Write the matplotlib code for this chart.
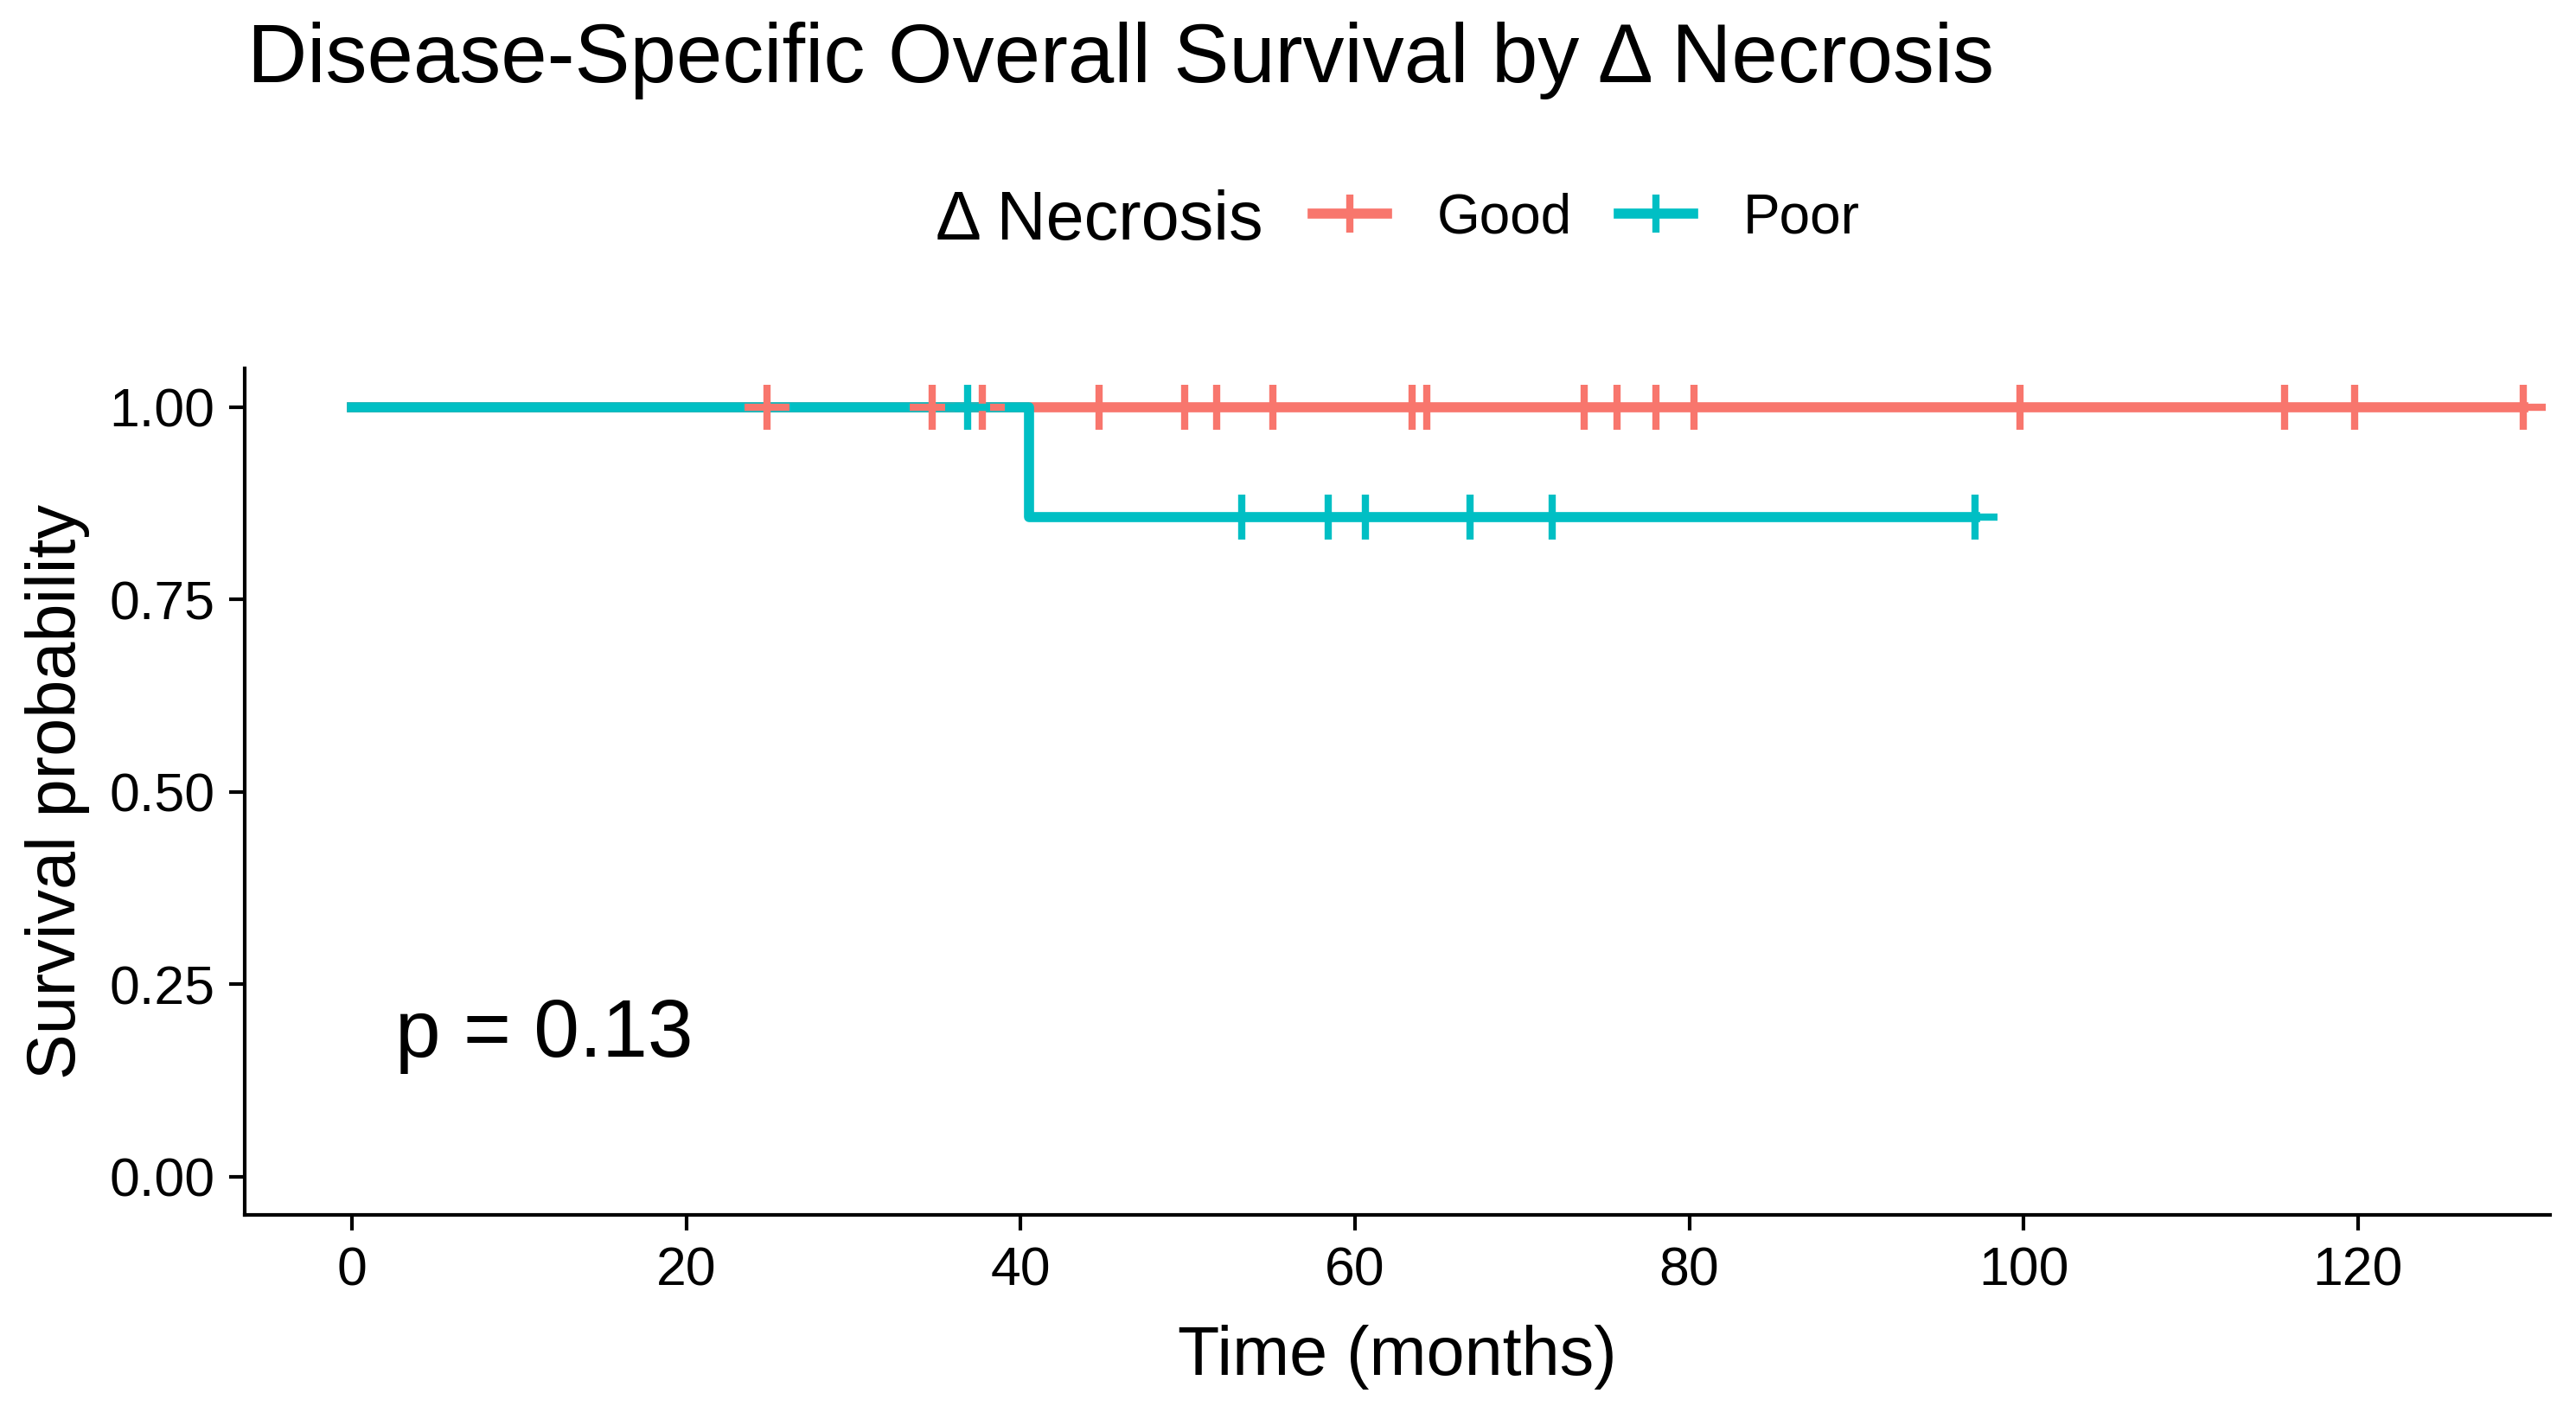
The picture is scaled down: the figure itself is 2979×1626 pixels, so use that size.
import numpy as np
import matplotlib.pyplot as plt

plt.rcParams['font.family'] = ['Liberation Sans', 'DejaVu Sans']

# 數據 (months), status 1 = event, 0 = censored
group_names = ['Good', 'Poor']
group_colors = ['#F8766D', '#00BFC4']

good_time = [24.8, 34.7, 37.7, 44.7, 49.8, 51.7, 55.1, 63.4, 64.3, 73.7,
             75.7, 78.0, 80.3, 99.8, 115.6, 119.8, 129.9]
good_status = [0] * len(good_time)

poor_time = [36.8, 40.5, 53.2, 58.4, 60.6, 66.9, 71.8, 97.1]
poor_status = [0, 1, 0, 0, 0, 0, 0, 0]

p_value = 0.13
x_ticks = [0, 20, 40, 60, 80, 100, 120]
y_ticks = [0.0, 0.25, 0.50, 0.75, 1.00]


def km(times, status):
    times = np.asarray(times, float)
    status = np.asarray(status, int)
    order = np.argsort(times)
    times, status = times[order], status[order]
    total = len(times)
    at_risk = total
    xs, ys = [0.0], [1.0]
    s = 1.0
    cens_x, cens_y = [], []
    i = 0
    while i < total:
        t = times[i]
        d = int(np.sum((times == t) & (status == 1)))
        c = int(np.sum((times == t) & (status == 0)))
        if d > 0:
            s = s * (1 - d / at_risk)
            xs.append(t)
            ys.append(s)
        if c > 0:
            cens_x += [t] * c
            cens_y += [s] * c
        at_risk -= d + c
        i += d + c
    xs.append(times[-1])
    ys.append(s)
    return xs, ys, cens_x, cens_y


fig = plt.figure(figsize=(14.895, 8.13), dpi=200)
ax = fig.add_axes([0.0951, 0.1357, 0.8948, 0.6022])

handles = []
curves = [(good_time, good_status), (poor_time, poor_status)]
for (t, st), name, col in zip(curves, group_names, group_colors):
    xs, ys, cx, cy = km(t, st)
    ax.step(xs, ys, where='post', color=col, lw=4.2, zorder=2)
    ax.plot(cx, cy, ls='none', marker='+', ms=19, mew=3.0, color=col, zorder=3)
    h, = ax.plot([], [], color=col, lw=4.2, marker='+', ms=16, mew=3.0)
    handles.append(h)

ax.set_xlim(-6.41, 131.49)
ax.set_ylim(-0.05, 1.05)
ax.set_xticks(x_ticks)
ax.set_yticks(y_ticks)
ax.set_yticklabels(['%.2f' % v for v in y_ticks])
for side in ['top', 'right']:
    ax.spines[side].set_visible(False)
for side in ['left', 'bottom']:
    ax.spines[side].set_linewidth(1.5)
    ax.spines[side].set_color('black')
ax.tick_params(length=6.5, width=1.5, colors='black', labelsize=22.5, pad=6)

ax.text(2.6, 0.156, 'p = %.2f' % p_value, fontsize=34, va='baseline', ha='left')

fig.text(1616 / 2979, 1 - 1590 / 1626, 'Time (months)', fontsize=28.5,
         ha='center', va='baseline')
fig.text(67 / 2979, 0.5 * (0.1357 + 0.7379), 'Survival probability', fontsize=28.5,
         rotation=90, ha='center', va='center')

fig.text(286 / 2979, 1 - 95 / 1626, 'Disease-Specific Overall Survival by \u0394 Necrosis',
         fontsize=34.5, ha='left', va='baseline')

# legend
fig.text(1082 / 2979, 1 - 277 / 1626, '\u0394 Necrosis', fontsize=28.5,
         ha='left', va='baseline')
fig.legend(handles, group_names, loc='center left', ncol=2,
           bbox_to_anchor=(1518 / 2979, 1 - 252 / 1626), frameon=False,
           fontsize=23, handlelength=1.35, handletextpad=0.9,
           columnspacing=0.85, borderpad=0, borderaxespad=0)

plt.savefig('out.png', dpi=200)
